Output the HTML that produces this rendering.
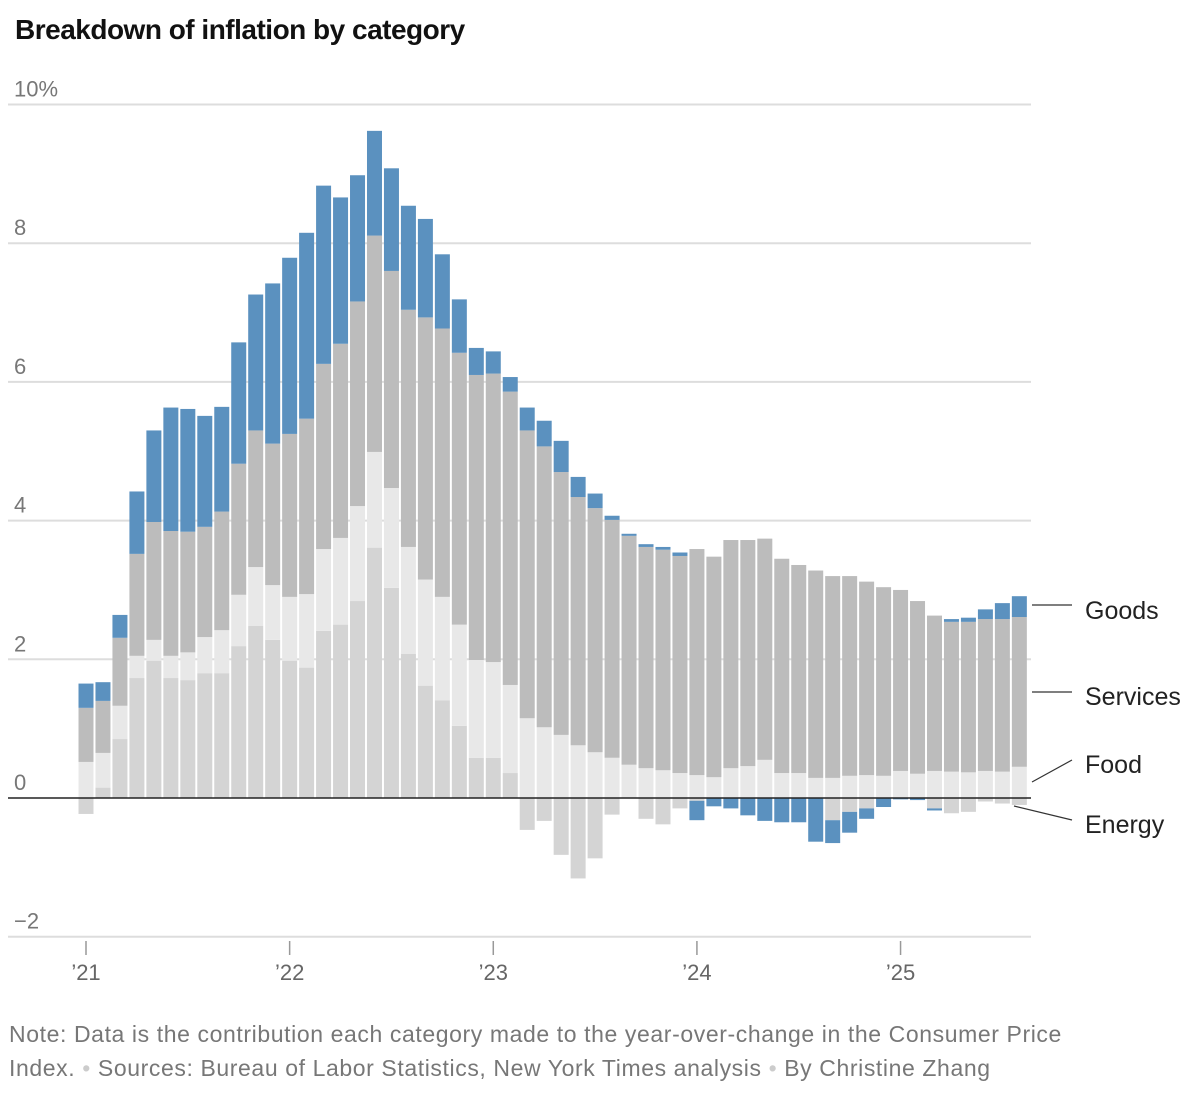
<!DOCTYPE html>
<html><head><meta charset="utf-8"><style>
body{margin:0;background:#fff;font-family:"Liberation Sans",sans-serif;}
#wrap{position:relative;width:1198px;height:1100px;overflow:hidden;}
h1{position:absolute;left:15px;top:14px;margin:0;font-size:28px;font-weight:bold;color:#111;letter-spacing:-0.5px;}
.note{position:absolute;left:9px;top:1017px;width:1090px;font-size:23px;letter-spacing:0.6px;line-height:34px;color:#777;}
.dot{color:#ccc;}
</style></head><body>
<div id="wrap">
<h1>Breakdown of inflation by category</h1>
<svg id="chart" width="1198" height="1100" style="position:absolute;left:0;top:0"></svg>
<div class="note">Note: Data is the contribution each category made to the year-over-change in the Consumer Price Index. <span class="dot">•</span> Sources: Bureau of Labor Statistics, New York Times analysis <span class="dot">•</span> By Christine Zhang</div>
</div>
<script>
const energy=[-0.23,0.15,0.85,1.73,1.98,1.73,1.7,1.8,1.8,2.19,2.48,2.28,1.98,1.88,2.41,2.5,2.84,3.61,3.03,2.08,1.62,1.41,1.04,0.58,0.58,0.36,-0.46,-0.33,-0.82,-1.16,-0.87,-0.24,0,-0.3,-0.38,-0.15,-0.04,0,0,0,0,0,0,0,-0.32,-0.2,-0.15,0,0,0,-0.15,-0.22,-0.2,-0.05,-0.08,-0.1];
const food=[0.52,0.5,0.48,0.32,0.3,0.32,0.4,0.52,0.62,0.74,0.85,0.79,0.92,1.06,1.18,1.25,1.37,1.38,1.44,1.54,1.53,1.49,1.46,1.41,1.38,1.27,1.15,1.02,0.91,0.76,0.66,0.58,0.48,0.43,0.4,0.36,0.33,0.3,0.43,0.46,0.55,0.36,0.36,0.29,0.29,0.32,0.33,0.32,0.39,0.35,0.39,0.38,0.37,0.39,0.38,0.45];
const services=[0.78,0.75,0.98,1.47,1.7,1.8,1.74,1.59,1.71,1.89,1.97,2.04,2.35,2.53,2.67,2.8,2.95,3.12,3.13,3.42,3.78,3.87,3.92,4.11,4.16,4.23,4.15,4.05,3.79,3.58,3.52,3.43,3.3,3.19,3.18,3.13,3.26,3.18,3.29,3.26,3.19,3.09,3.0,2.99,2.91,2.88,2.79,2.72,2.61,2.49,2.24,2.16,2.17,2.19,2.2,2.16];
const goods=[0.35,0.27,0.33,0.9,1.32,1.78,1.77,1.6,1.51,1.75,1.96,2.31,2.54,2.68,2.57,2.11,1.82,1.51,1.48,1.5,1.42,1.07,0.77,0.39,0.32,0.21,0.33,0.37,0.45,0.29,0.21,0.06,0.03,0.04,0.04,0.05,-0.28,-0.12,-0.15,-0.25,-0.33,-0.35,-0.35,-0.63,-0.33,-0.3,-0.15,-0.13,-0.02,-0.03,-0.03,0.04,0.06,0.14,0.23,0.3];
const yTicks=[-2,0,2,4,6,8,10];
const yTickLabels=["\u22122","0","2","4","6","8","10%"];
const xTickYears=["’21","’22","’23","’24","’25"];
const seriesNames=["Goods","Services","Food","Energy"];

const NS="http://www.w3.org/2000/svg";
const svg=document.getElementById('chart');
const y=v=>798-v*69.35;
const x=i=>86+i*16.97;
const bw=15;
function mk(t,a){const e=document.createElementNS(NS,t);for(const k in a)e.setAttribute(k,a[k]);svg.appendChild(e);return e;}
yTicks.forEach((t,k)=>{
  if(t!==0){const l=mk('line',{x1:8,x2:1031,y1:y(t),y2:y(t),stroke:'#ddd','stroke-width':2});
  
  }
  const tx=mk('text',{x:14,y:y(t)-8,'font-size':22,fill:'#777','font-family':'Liberation Sans, sans-serif'});
  tx.textContent=yTickLabels[k];
  
  
});
const cols={energy:'#d4d4d4',food:'#e8e8e8',services:'#bcbcbc',goods:'#5b91bf'};
for(let i=0;i<energy.length;i++){
  let pos=0,neg=0;
  const parts=[['energy',energy[i]],['food',food[i]],['services',services[i]],['goods',goods[i]]];
  parts.forEach(([n,v])=>{
    let a,b;
    if(v>=0){a=pos;b=pos+v;pos=b;}else{a=neg;b=neg+v;neg=b;}
    const r=mk('rect',{x:x(i)-bw/2,y:Math.min(y(a),y(b)),width:bw,height:Math.abs(y(a)-y(b)),fill:cols[n]});
    
    
  });
}
const z=mk('line',{x1:8,x2:1031,y1:y(0),y2:y(0),stroke:'#222','stroke-width':1.5});


xTickYears.forEach((t,k)=>{
  const xi=x(k*12);
  const l=mk('line',{x1:xi,x2:xi,y1:941,y2:955,stroke:'#999','stroke-width':1.5});
  
  
  const tx=mk('text',{x:xi,y:980,'font-size':22,fill:'#666','text-anchor':'middle','font-family':'Liberation Sans, sans-serif'});
  tx.textContent=t;
  
  
});
const labY=[611,697,765,825];
const lines=[[1032,605,1072,605],[1032,692,1072,692],[1032,782,1072,760],[1014,806,1072,820]];
seriesNames.forEach((n,k)=>{
  const l=mk('line',{x1:lines[k][0],y1:lines[k][1],x2:lines[k][2],y2:lines[k][3],stroke:'#333','stroke-width':1.2});
  
  
  const tx=mk('text',{x:1085,y:labY[k]+8,'font-size':25,fill:'#222','font-family':'Liberation Sans, sans-serif'});
  tx.textContent=n;
  
  
});
</script>
</body></html>
